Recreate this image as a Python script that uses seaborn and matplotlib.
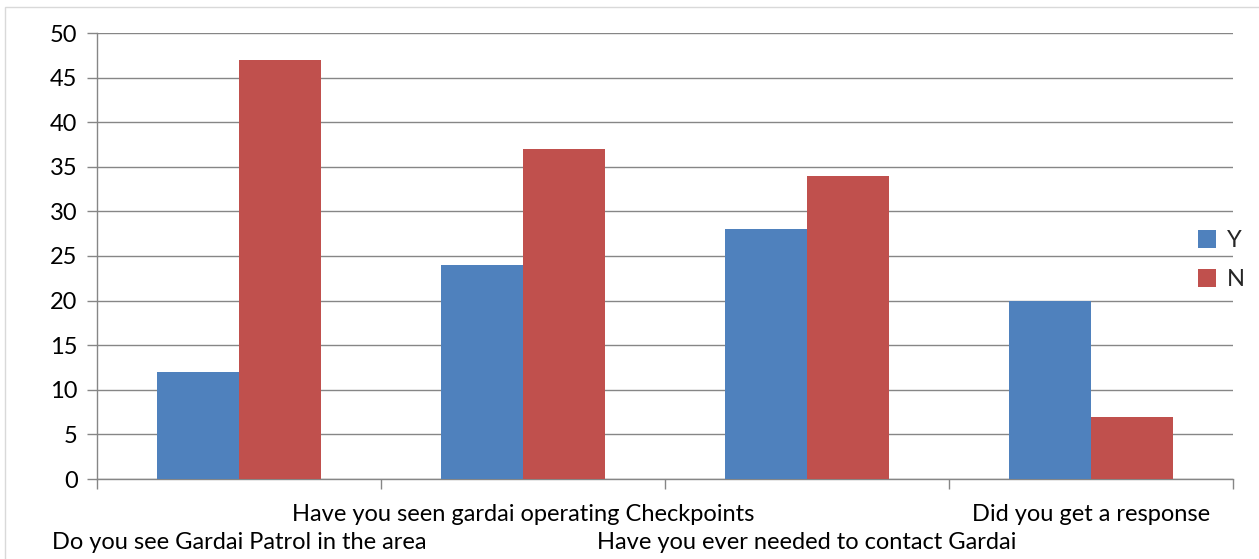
import matplotlib
matplotlib.use("Agg")
import matplotlib.pyplot as plt
import matplotlib.transforms as mtransforms
from matplotlib.patches import Rectangle
import seaborn as sns
import pandas as pd

categories = ["Do you see Gardai Patrol in the area",
              "Have you seen gardai operating Checkpoints",
              "Have you ever needed to contact Gardai",
              "Did you get a response"]
series_names = ["Y", "N"]
y_values = [12, 24, 28, 20]
n_values = [47, 37, 34, 7]
y_ticks = [0, 5, 10, 15, 20, 25, 30, 35, 40, 45, 50]

df = pd.DataFrame({
    "category": categories * 2,
    "series": [series_names[0]] * 4 + [series_names[1]] * 4,
    "value": y_values + n_values,
})

sns.set_theme(style="white")
plt.rcParams["font.family"] = ["Lato", "DejaVu Sans"]

FS = 17

fig = plt.figure(figsize=(12.59, 5.59), dpi=100)
ax = fig.add_axes([97/1259, 1 - 479/559, (1233 - 97)/1259, (479 - 33)/559])

sns.barplot(data=df, x="category", y="value", hue="series", order=categories,
            hue_order=series_names, palette=["#4F81BD", "#C0504D"],
            width=0.577, saturation=1, ax=ax, legend=True, zorder=3)
for p in ax.patches:
    p.set_linewidth(0)

ax.set_xlim(-0.5, 3.5)
ax.set_ylim(0, 50)
ax.set_yticks(y_ticks)
ax.set_yticklabels([str(t) for t in y_ticks], fontsize=FS, color="black")
ax.yaxis.grid(True, color="#868686", linewidth=1, zorder=0)
ax.set_axisbelow(True)
ax.set_xlabel("")
ax.set_ylabel("")

for s in ["top", "right"]:
    ax.spines[s].set_visible(False)
for s in ["left", "bottom"]:
    ax.spines[s].set_color("#868686")
    ax.spines[s].set_linewidth(1)

ax.tick_params(axis="y", which="major", left=True, length=7, width=1, color="#868686", pad=7)
ax.set_xticks([0, 1, 2, 3])
ax.set_xticks([-0.5, 0.5, 1.5, 2.5, 3.5], minor=True)
ax.tick_params(axis="x", which="minor", bottom=True, length=7, width=1, color="#868686")
ax.tick_params(axis="x", which="major", bottom=False, length=0, pad=18)
ax.set_xticklabels(categories, fontsize=FS, color="black")

shift = mtransforms.ScaledTranslation(0, -28/100, fig.dpi_scale_trans)
for i, lab in enumerate(ax.get_xticklabels()):
    if i % 2 == 0:
        lab.set_transform(lab.get_transform() + shift)

leg = ax.legend(loc="upper left", bbox_to_anchor=((1198 - 97)/1136, (479 - 230)/446),
                frameon=False, fontsize=FS, handlelength=0.78, handleheight=0.78,
                handletextpad=0.45, labelspacing=0.75, borderpad=0, borderaxespad=0)

fig.patches.append(Rectangle((5/1259, -0.1), 1.2, 1.1 - 7/559, transform=fig.transFigure,
                             fill=False, edgecolor="#D9D9D9", linewidth=1))

fig.savefig("out.png", dpi=100)
